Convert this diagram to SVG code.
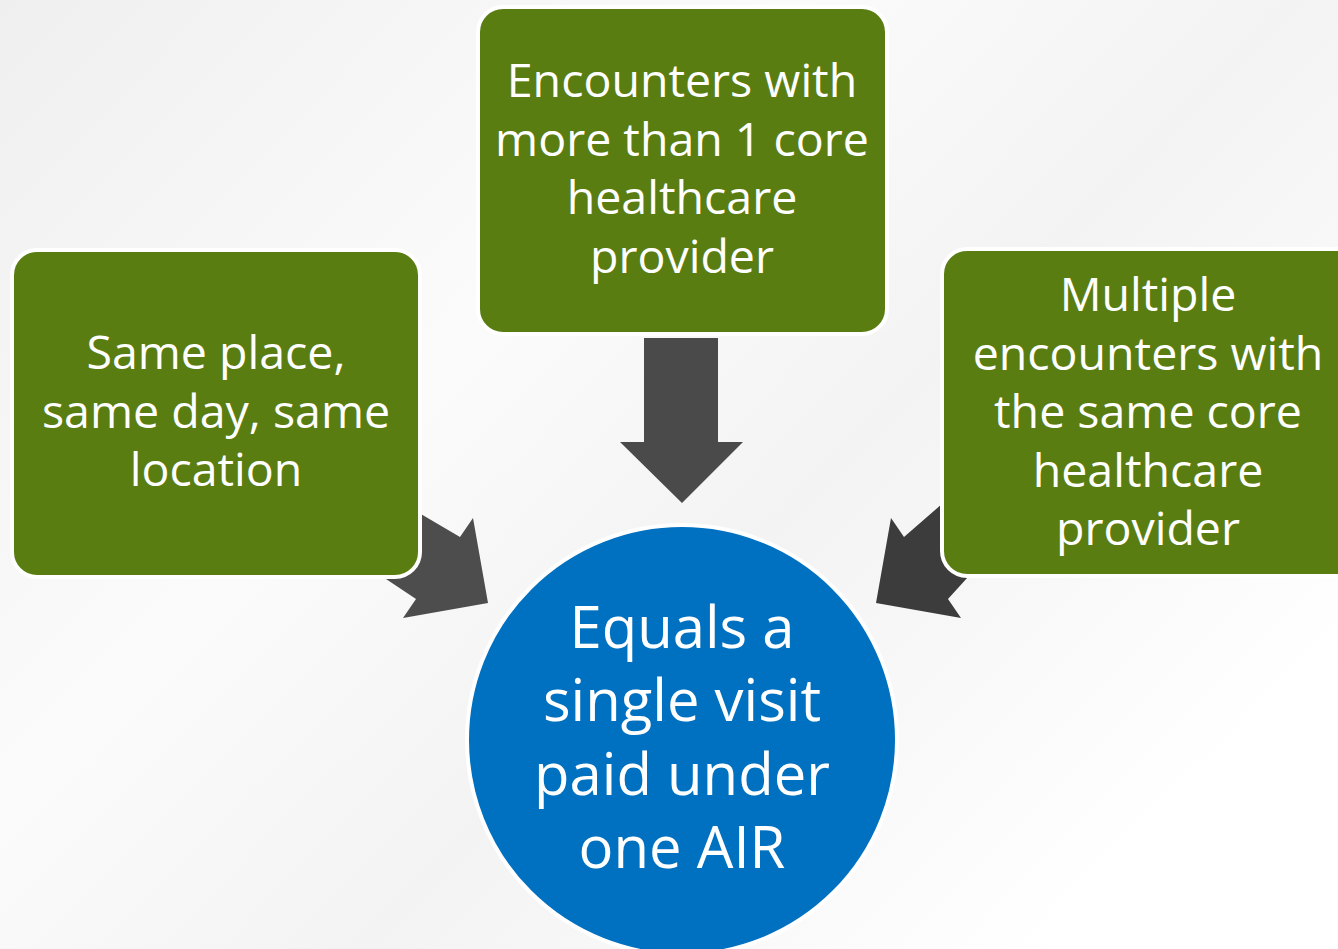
<svg xmlns="http://www.w3.org/2000/svg" width="1338" height="949" viewBox="0 0 1338 949">
<defs>
<linearGradient id="bg" x1="0" y1="0" x2="1" y2="0.7">
<stop offset="0" stop-color="#efefef"/>
<stop offset="0.4" stop-color="#fbfbfb"/>
<stop offset="0.65" stop-color="#f3f3f3"/>
<stop offset="1" stop-color="#ffffff"/>
</linearGradient>
<style>
.box{fill:#5a7d12;stroke:#ffffff;stroke-width:4}
.t{font-family:"Open Sans","Noto Sans",sans-serif;fill:#ffffff;text-anchor:middle}
.bt{font-size:46.5px}
.ct{font-size:58px}
</style>
</defs>
<rect width="1338" height="949" fill="url(#bg)"/>
<g id="connectors">
<polygon fill="#4d4d4d" points="380,490 460,537 473,518 488,603 403,618 416,599 350,555"/>
<polygon fill="#3c3c3c" points="958,490 904,537 891,518 876,603 961,618 948,599 988,555"/>
<polygon fill="#4a4a4a" points="644,338 718,338 718,442 743,442 682,503 620,442 644,442"/>
</g>
<g id="node-left">
<rect class="box" x="12" y="250" width="408" height="327" rx="25"/>
<text class="t bt" x="216" y="369">Same place,</text>
<text class="t bt" x="216" y="428">same day, same</text>
<text class="t bt" x="216" y="486">location</text>
</g>
<g id="node-top">
<rect class="box" x="478" y="7" width="409" height="327" rx="25"/>
<text class="t bt" x="682" y="97">Encounters with</text>
<text class="t bt" x="682" y="156">more than 1 core</text>
<text class="t bt" x="682" y="214">healthcare</text>
<text class="t bt" x="682" y="273">provider</text>
</g>
<g id="node-right">
<rect class="box" x="942" y="249" width="420" height="327" rx="25"/>
<text class="t bt" x="1148" y="311">Multiple</text>
<text class="t bt" x="1148" y="370">encounters with</text>
<text class="t bt" x="1148" y="428">the same core</text>
<text class="t bt" x="1148" y="487">healthcare</text>
<text class="t bt" x="1148" y="545">provider</text>
</g>
<g id="node-center">
<circle cx="682" cy="740" r="215" fill="#0070c0" stroke="#ffffff" stroke-width="4"/>
<text class="t ct" x="682" y="648">Equals a</text>
<text class="t ct" x="682" y="721">single visit</text>
<text class="t ct" x="682" y="795">paid under</text>
<text class="t ct" x="682" y="868">one AIR</text>
</g>
</svg>
